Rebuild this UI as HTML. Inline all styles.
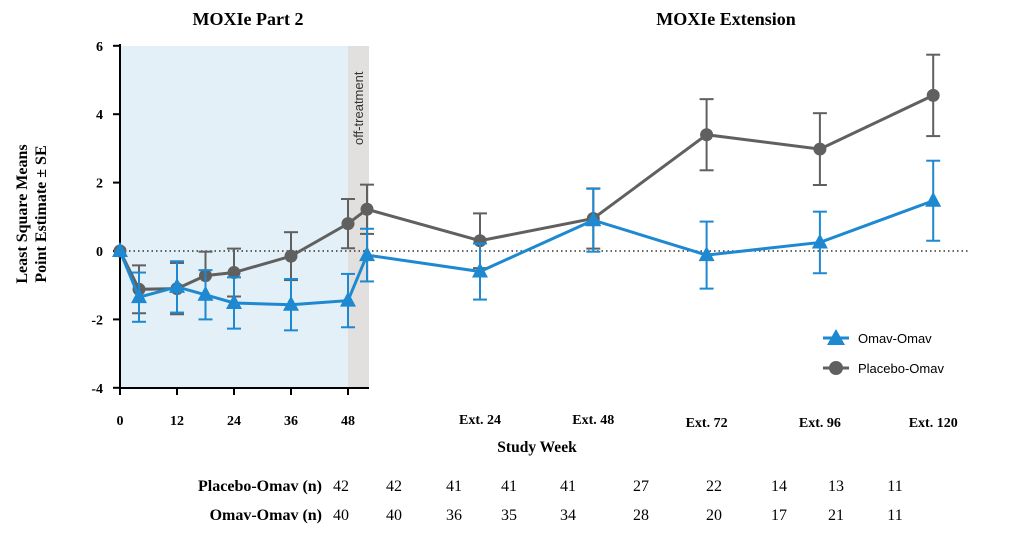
<!DOCTYPE html>
<html><head><meta charset="utf-8"><style>
body{margin:0;background:#fff;width:1009px;height:538px;overflow:hidden}
svg text{font-family:"Liberation Serif",serif}
.b{font-weight:bold}
</style></head><body>
<svg id="c" width="1009" height="538">
<rect x="120" y="46" width="228" height="342" fill="#e3f0f8"/>
<rect x="348" y="46" width="21" height="342" fill="#e2dfdf"/>
<text transform="translate(363,145) rotate(-90)" font-size="13" fill="#333" style="font-family:'Liberation Sans',sans-serif">off-treatment</text>
<text x="248" y="25" text-anchor="middle" font-size="18" class="b">MOXIe Part 2</text>
<text x="726" y="25" text-anchor="middle" font-size="18" class="b">MOXIe Extension</text>
<text transform="translate(27,214) rotate(-90)" text-anchor="middle" font-size="16" class="b">Least Square Means</text>
<text transform="translate(46,214) rotate(-90)" text-anchor="middle" font-size="16" class="b">Point Estimate ± SE</text>
<text x="537" y="452" text-anchor="middle" font-size="15.5" class="b">Study Week</text>
<line x1="120" y1="251" x2="970" y2="251" stroke="#333" stroke-width="1.5" stroke-dasharray="1.5,3"/>
<g id="axes"></g><g id="series"></g>
<g>
<line x1="823" y1="338" x2="849" y2="338" stroke="#1e88d0" stroke-width="3"/>
<polygon points="836,329 845,345 827,345" fill="#1e88d0"/>
<text x="858" y="343" font-size="13" style="font-family:'Liberation Sans',sans-serif">Omav-Omav</text>
<line x1="823" y1="368" x2="849" y2="368" stroke="#606060" stroke-width="3"/>
<circle cx="836" cy="368" r="7" fill="#606060"/>
<text x="858" y="373" font-size="13" style="font-family:'Liberation Sans',sans-serif">Placebo-Omav</text>
</g>
<g id="table"></g>
</svg>
<script>
const xKeys=[0,4,12,18,24,36,48,52,"E24","E48","E72","E96","E120"];
const placeboVals=[0,-1.12,-1.1,-0.72,-0.63,-0.15,0.8,1.22,0.3,0.95,3.4,2.98,4.55];
const placeboSE=[0,0.7,0.75,0.7,0.7,0.7,0.72,0.72,0.8,0.88,1.04,1.05,1.19];
const omavVals=[0,-1.35,-1.05,-1.28,-1.52,-1.57,-1.45,-0.12,-0.6,0.9,-0.12,0.25,1.47];
const omavSE=[0,0.72,0.75,0.72,0.75,0.75,0.78,0.77,0.82,0.92,0.98,0.9,1.17];
const yTicks=[6,4,2,0,-2,-4];
const xTickKeys=[0,12,24,36,48,"E24","E48","E72","E96","E120"];
const xTickLabels=["0","12","24","36","48","Ext. 24","Ext. 48","Ext. 72","Ext. 96","Ext. 120"];
const nPlacebo=[42,42,41,41,41,27,22,14,13,11];
const nOmav=[40,40,36,35,34,28,20,17,21,11];
const nCols=[341,394,454,509,568,641,714,779,836,895];
const NS="http://www.w3.org/2000/svg";
function X(k){if(typeof k==="number")return 120+k*4.75;const e=+k.slice(1);return 480+(e-24)/24*113.3;}
function Y(v){return 251-v*34.2;}
function mk(p,t,a){const e=document.createElementNS(NS,t);for(const k in a)e.setAttribute(k,a[k]);p.appendChild(e);return e;}
const ax=document.getElementById('axes');
const yl=mk(ax,'line',{x1:120,y1:44,x2:120,y2:389,stroke:'#000','stroke-width':2});


const xl=mk(ax,'line',{x1:119,y1:388,x2:369,y2:388,stroke:'#000','stroke-width':2});


yTicks.forEach(v=>{mk(ax,'line',{x1:113,y1:Y(v),x2:120,y2:Y(v),stroke:'#000','stroke-width':2});
const t=mk(ax,'text',{x:103,y:Y(v)+5,'text-anchor':'end','font-size':14,'class':'b'});t.textContent=v;

});
xTickKeys.forEach((k,i)=>{const x=X(k);if(typeof k==="number")mk(ax,'line',{x1:x,y1:388,x2:x,y2:395,stroke:'#000','stroke-width':2});
const t=mk(ax,'text',{x:x,y:typeof k==="number"?425:i>6?427:424,'text-anchor':'middle','font-size':14,'class':'b'});t.textContent=xTickLabels[i];

});
const sg=document.getElementById('series');
function series(vals,se,col,shape,name){
const g=mk(sg,'g',{});


vals.forEach((v,i)=>{if(!se[i])return;const x=X(xKeys[i]);
mk(g,'line',{x1:x,y1:Y(v+se[i]),x2:x,y2:Y(v-se[i]),stroke:col,'stroke-width':2});
[v+se[i],v-se[i]].forEach(w=>mk(g,'line',{x1:x-7,y1:Y(w),x2:x+7,y2:Y(w),stroke:col,'stroke-width':2}));});
mk(g,'polyline',{points:vals.map((v,i)=>X(xKeys[i])+','+Y(v)).join(' '),fill:'none',stroke:col,'stroke-width':3});
vals.forEach((v,i)=>{const x=X(xKeys[i]),y=Y(v);let m;
if(shape==='c')m=mk(g,'circle',{cx:x,cy:y,r:6.5,fill:col});
else m=mk(g,'polygon',{points:`${x},${y-9} ${x+8},${y+6} ${x-8},${y+6}`,fill:col});

});}
series(placeboVals,placeboSE,'#606060','c','placebo-omav-series');
series(omavVals,omavSE,'#1e88d0','t','omav-omav-series');
const tb=document.getElementById('table');
[["Placebo-Omav (n)",nPlacebo,491],["Omav-Omav (n)",nOmav,520]].forEach(r=>{
const l=mk(tb,'text',{x:322,y:r[2],'text-anchor':'end','font-size':16,'class':'b'});l.textContent=r[0];


r[1].forEach((n,i)=>{const t=mk(tb,'text',{x:nCols[i],y:r[2],'text-anchor':'middle','font-size':16});t.textContent=n;

});});
</script>
</body></html>
